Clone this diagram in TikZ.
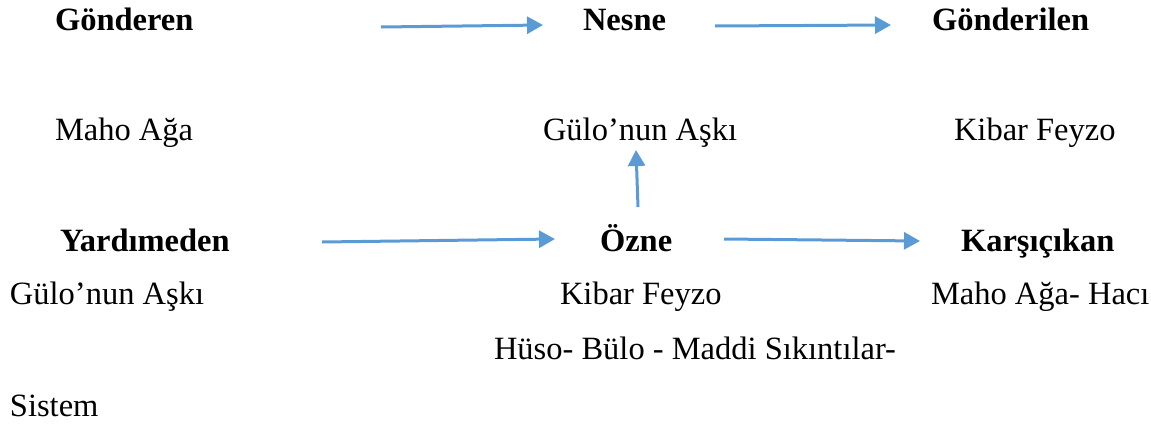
\documentclass[tikz,border=0pt]{standalone}
\usepackage{fontspec}
\setmainfont{Liberation Serif}
\usetikzlibrary{arrows.meta}
\definecolor{arrowblue}{RGB}{91,155,213}
\tikzset{
  lbl/.style={anchor=base west, inner sep=0pt, outer sep=0pt, font=\fontsize{16.25pt}{19.5pt}\selectfont},
  hd/.style={lbl, font=\fontsize{16.25pt}{19.5pt}\selectfont\bfseries},
  conn/.style={draw=arrowblue, line width=1.5pt, -{Triangle[length=8pt,width=8.5pt]}}
}
\begin{document}
\begin{tikzpicture}[x=0.5pt,y=-0.5pt]
\useasboundingbox (0,0) rectangle (1151,423);
% row 1
\node[hd] (gonderen) at (55,30) {Gönderen};
\node[hd] (nesne) at (583,30) {Nesne};
\node[hd] (gonderilen) at (932,30) {Gönderilen};
% row 2
\node[lbl] (maho) at (55,140) {Maho Ağa};
\node[lbl] (gulo1) at (543,140) {Gülo’nun Aşkı};
\node[lbl] (kibar1) at (954,140) {Kibar Feyzo};
% row 3
\node[hd] (yardim) at (60,251) {Yardımeden};
\node[hd] (ozne) at (600,251) {Özne};
\node[hd] (karsi) at (961,251) {Karşıçıkan};
% row 4
\node[lbl] (gulo2) at (10,304) {Gülo’nun Aşkı};
\node[lbl] (kibar2) at (560,304) {Kibar Feyzo};
\node[lbl] (mahohaci) at (931,304) {Maho Ağa- Hacı};
% row 5, 6
\node[lbl] (huso) at (494,359) {Hüso- Bülo - Maddi Sıkıntılar-};
\node[lbl] (sistem) at (10,416) {Sistem};
% arrow end points
\coordinate (a1s) at (381,27);
\coordinate (a1e) at (543,25);
\coordinate (a2s) at (715,26);
\coordinate (a2e) at (891,25);
\coordinate (a3s) at (638,207);
\coordinate (a3e) at (636,150);
\coordinate (a4s) at (322,242);
\coordinate (a4e) at (555,239);
\coordinate (a5s) at (724,239);
\coordinate (a5e) at (920,241);
\draw[conn] (a1s) -- (a1e);
\draw[conn] (a2s) -- (a2e);
\draw[conn] (a3s) -- (a3e);
\draw[conn] (a4s) -- (a4e);
\draw[conn] (a5s) -- (a5e);
\end{tikzpicture}
\end{document}
